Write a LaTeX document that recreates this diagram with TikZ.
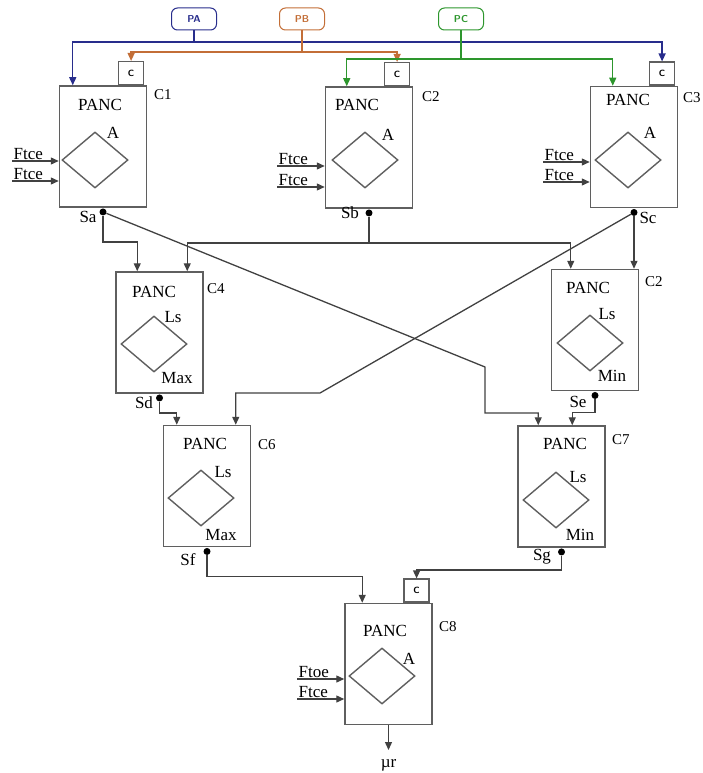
\documentclass[tikz,border=0pt]{standalone}
\usepackage{fontspec}
\setmainfont{Liberation Serif}
\usepackage{tikz}
\usetikzlibrary{positioning,calc,shapes.geometric,arrows.meta}
\definecolor{boxgray}{RGB}{95,95,95}
\definecolor{wiregray}{RGB}{65,65,65}
\definecolor{pablue}{RGB}{40,45,140}
\definecolor{pborange}{RGB}{195,110,55}
\definecolor{pcgreen}{RGB}{45,150,45}
\tikzset{
  panc/.style={draw=boxgray,line width=1.5pt,minimum width=87pt,minimum height=121pt,inner sep=0pt},
  cbox/.style={draw=boxgray,line width=1.3pt,minimum width=25pt,minimum height=23pt,inner sep=0pt,
    font=\sffamily\bfseries\fontsize{9}{9}\selectfont},
  dmd/.style={diamond,draw=boxgray,line width=1.4pt,minimum width=66pt,minimum height=56pt,inner sep=0pt},
  ptag/.style={draw=#1,text=#1,rounded corners=6pt,line width=1pt,minimum width=45pt,minimum height=22pt,
    inner sep=0pt,font=\sffamily\bfseries\fontsize{10}{10}\selectfont},
  odot/.style={circle,fill=black,inner sep=0pt,minimum size=7pt},
  wire/.style={draw=wiregray,line width=1.3pt},
  cname/.style={anchor=west,inner sep=0pt,font=\fontsize{15}{17}\selectfont},
  >={Triangle[length=8pt,width=7pt]}
}

\begin{document}
\begin{tikzpicture}[x=1pt,y=-1pt,font=\fontsize{17}{19}\selectfont]
%\draw[help lines] (0,0) grid[step=50] (702,773);
\useasboundingbox (0,0) rectangle (702,773);

% the eight cells
\node[panc] (C1) at (103,146.5) {};
\node[panc] (C2) at (369,147.5) {};
\node[panc] (C3) at (634,147) {};
\node[panc] (C4) at (159.5,332.5) {};
\node[panc] (C5) at (595,330) {};
\node[panc] (C6) at (207,486) {};
\node[panc] (C7) at (561.5,486.5) {};
\node[panc] (C8) at (388.5,664) {};

\node[cbox,anchor=south east] (c1c) at ([xshift=-3pt]C1.north east) {C};
\node[cbox,anchor=south east] (c2c) at ([xshift=-3pt]C2.north east) {C};
\node[cbox,anchor=south east] (c3c) at ([xshift=-3pt]C3.north east) {C};
\node[cbox,anchor=south east] (c8c) at ([xshift=-3pt]C8.north east) {C};

\node[cname] (l1) at (154,95) {C1};
\node[cname] (l2) at (422,97) {C2};
\node[cname] (l3) at (683,98) {C3};
\node[cname] (l4) at (207,289) {C4};
\node[cname] (l5) at (645,282) {C2};
\node[cname] (l6) at (258,445) {C6};
\node[cname] (l7) at (612,440) {C7};
\node[cname] (l8) at (439,627) {C8};

\node (p1) at (100,105) {PANC};
\node (p2) at (357,105) {PANC};
\node (p3) at (628,100) {PANC};
\node (p4) at (154,292) {PANC};
\node (p5) at (588,288) {PANC};
\node (p6) at (205,444) {PANC};
\node (p7) at (565,444) {PANC};
\node (p8) at (385,631) {PANC};

\node[dmd] (d1) at (95,160) {};
\node[dmd] (d2) at (365,160) {};
\node[dmd] (d3) at (628,160) {};
\node[dmd] (d4) at (154,344) {};
\node[dmd] (d5) at (590,343) {};
\node[dmd] (d6) at (201,498) {};
\node[dmd] (d7) at (556,500) {};
\node[dmd] (d8) at (382,676) {};

\node (a1) at (113,133) {A};
\node (a2) at (388,135) {A};
\node (a3) at (650,133) {A};
\node (a8) at (409,659) {A};
\node (ls4) at (173,317) {Ls};
\node (ls5) at (607,314) {Ls};
\node (ls6) at (223,472) {Ls};
\node (ls7) at (578,477) {Ls};
\node (mx4) at (177,378) {Max};
\node (mn5) at (612,376) {Min};
\node (mx6) at (221,535) {Max};
\node (mn7) at (580,535) {Min};

% inputs Ftce
\coordinate (f1a) at (12,161);  \coordinate (f1b) at (12,181);
\coordinate (f2a) at (277,166); \coordinate (f2b) at (277,187);
\coordinate (f3a) at (543,162); \coordinate (f3b) at (543,182);
\coordinate (f8a) at (297,679); \coordinate (f8b) at (297,699);
\draw[wire,->] (f1a) -- (f1a -| C1.west);
\draw[wire,->] (f1b) -- (f1b -| C1.west);
\draw[wire,->] (f2a) -- (f2a -| C2.west);
\draw[wire,->] (f2b) -- (f2b -| C2.west);
\draw[wire,->] (f3a) -- (f3a -| C3.west);
\draw[wire,->] (f3b) -- (f3b -| C3.west);
\draw[wire,->] (f8a) -- (f8a -| C8.west);
\draw[wire,->] (f8b) -- (f8b -| C8.west);
\node[anchor=south west,inner sep=1.5pt] (t1a) at (f1a) {Ftce};
\node[anchor=south west,inner sep=1.5pt] (t1b) at (f1b) {Ftce};
\node[anchor=south west,inner sep=1.5pt] (t2a) at (f2a) {Ftce};
\node[anchor=south west,inner sep=1.5pt] (t2b) at (f2b) {Ftce};
\node[anchor=south west,inner sep=1.5pt] (t3a) at (f3a) {Ftce};
\node[anchor=south west,inner sep=1.5pt] (t3b) at (f3b) {Ftce};
\node[anchor=south west,inner sep=1.5pt] (t8a) at (f8a) {Ftoe};
\node[anchor=south west,inner sep=1.5pt] (t8b) at (f8b) {Ftce};

% outputs
\node[odot,below=0.5pt of C1.south] (sa) {};
\node[odot,below=0.5pt of C2.south] (sb) {};
\node[odot,below=0.5pt of C3.south] (sc) {};
\node[odot,below=0.5pt of C4.south] (sd) {};
\node[odot,below=0.5pt of C5.south] (se) {};
\node[odot,below=0.5pt of C6.south] (sf) {};
\node[odot,below=0.5pt of C7.south] (sg) {};
\node (tsa) at (88,217) {Sa};
\node (tsb) at (350,213) {Sb};
\node (tsc) at (648,218) {Sc};
\node (tsd) at (144,403) {Sd};
\node (tse) at (578,402) {Se};
\node (tsf) at (188,560) {Sf};
\node (tsg) at (542,557) {Sg};

% parameter tags
\node[ptag=pablue] (pa) at (194,19) {PA};
\node[ptag=pborange] (pb) at (302,19) {PB};
\node[ptag=pcgreen] (pc) at (461,19) {PC};

\draw[pablue,line width=1.3pt] (pa) -- ++(0,23) coordinate (paj);
\draw[pablue,line width=1.3pt,->] (paj) -| ($(C1.north west)+(14,0)$);
\draw[pablue,line width=1.3pt,->] (paj) -| (c3c.north);
\draw[pborange,line width=1.3pt] (pb) -- ++(0,33) coordinate (pbj);
\draw[pborange,line width=1.3pt,->] (pbj) -| (c1c.north);
\draw[pborange,line width=1.3pt,->] (pbj) -| (c2c.north);
\draw[pcgreen,line width=1.3pt] (pc) -- ++(0,40) coordinate (pcj);
\draw[pcgreen,line width=1.3pt,->] (pcj) -| ($(C2.north west)+(22,0)$);
\draw[pcgreen,line width=1.3pt,->] (pcj) -| ($(C3.north west)+(23,0)$);

% links between cells
\coordinate (xa) at (485,367);
\coordinate (xc) at (320,393);
\draw[wire,->] (sa) -- ++(0,30) -| ($(C4.north west)+(22,0)$);
\draw[wire,->] (sa) -- (xa) -- ++(0,46) -| ($(C7.north west)+(21,0)$);
\draw[wire] (sb) -- ++(0,30) coordinate (sbj);
\draw[wire,->] (sbj) -| ($(C4.north west)+(72,0)$);
\draw[wire,->] (sbj) -| ($(C5.north west)+(20,0)$);
\draw[wire,->] (sc) -- (sc |- C5.north);
\draw[wire,->] (sc) -- (xc) -| ($(C6.north west)+(73,0)$);
\draw[wire,->] (sd) -- ++(0,15) -| ($(C6.north west)+(14,0)$);
\draw[wire,->] (se) -- ++(0,17) -| ($(C7.north west)+(55,0)$);
\draw[wire,->] (sf) -- ++(0,25) -| ($(C8.north west)+(18,0)$);
\draw[wire,->] (sg) -- ++(0,18) -| (c8c.north);

\coordinate (mu) at (388.5,750);
\draw[wire,->] (C8.south) -- (mu);
\node (tmu) at (388.5,765) {µr};
\end{tikzpicture}
\end{document}
